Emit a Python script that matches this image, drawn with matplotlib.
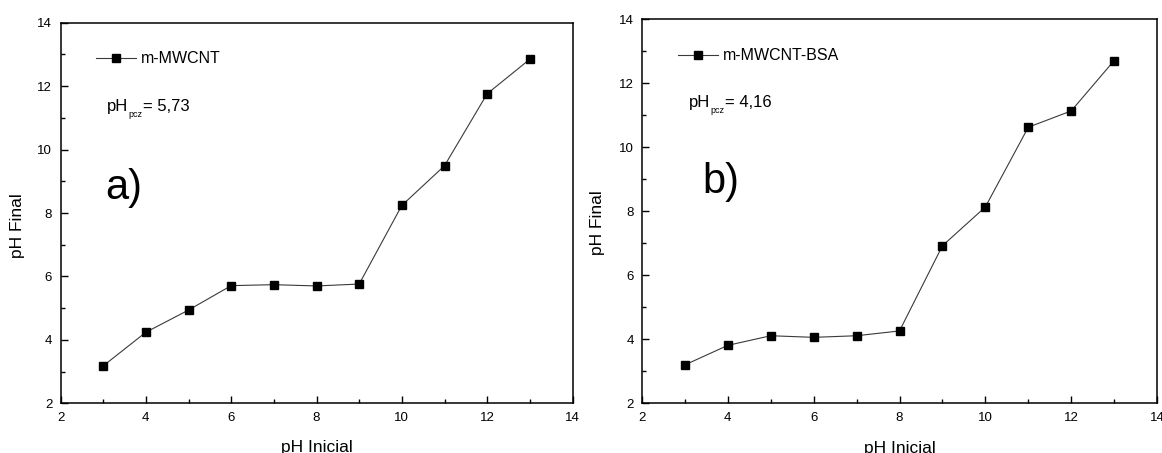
import matplotlib
matplotlib.use("Agg")
import matplotlib.pyplot as plt
from matplotlib.ticker import MultipleLocator

plt.rcParams["font.family"] = ["Liberation Sans", "DejaVu Sans"]

ph_inicial = [3, 4, 5, 6, 7, 8, 9, 10, 11, 12, 13]
ph_final_mwcnt = [3.18, 4.24, 4.94, 5.71, 5.74, 5.70, 5.76, 8.24, 9.49, 11.76, 12.85]
ph_final_bsa = [3.20, 3.81, 4.11, 4.06, 4.11, 4.26, 6.92, 8.13, 10.62, 11.13, 12.70]

panels = [
    ("m-MWCNT", ph_final_mwcnt, "5,73", "a)"),
    ("m-MWCNT-BSA", ph_final_bsa, "4,16", "b)"),
]
# axes rectangles in figure fraction, plus label offsets per panel
rects = [[0.0521, 0.1097, 0.4406, 0.8402], [0.5525, 0.1097, 0.4432, 0.8483]]
legend_xy = [(0.070, 0.925), (0.070, 0.924)]
pcz_xy = [(0.091, 0.768), (0.091, 0.771)]
tag_xy = [(0.088, 0.537), (0.118, 0.547)]
ylabel_xy = [(-0.069, 0.468), (-0.071, 0.469)]

fig = plt.figure(figsize=(11.62, 4.53), dpi=100)
renderer = fig.canvas.get_renderer()


def pcz_label(ax, x, y, value):
    # "pH" + small lowered "pcz" + "= value", laid out piece by piece
    t1 = ax.text(x, y, "pH", transform=ax.transAxes, fontsize=12,
                 va="baseline", ha="left")
    w1 = t1.get_window_extent(renderer).width
    t2 = ax.annotate("pcz", xy=(x, y), xycoords="axes fraction",
                     xytext=(w1 + 0.5, -6), textcoords="offset pixels",
                     fontsize=6.5, va="baseline", ha="left")
    w2 = t2.get_window_extent(renderer).width
    ax.annotate("= " + value, xy=(x, y), xycoords="axes fraction",
                xytext=(w1 + w2 + 1.0, 0), textcoords="offset pixels",
                fontsize=12, va="baseline", ha="left")


for i, (name, yvals, pcz, tag) in enumerate(panels):
    ax = fig.add_axes(rects[i])
    ax.plot(ph_inicial, yvals, color="#3a3a3a", lw=0.8, marker="s",
            ms=5.2, mfc="black", mec="black", label=name)
    ax.set_xlim(2, 14)
    ax.set_ylim(2, 14)
    ax.xaxis.set_major_locator(MultipleLocator(2))
    ax.xaxis.set_minor_locator(MultipleLocator(1))
    ax.yaxis.set_major_locator(MultipleLocator(2))
    ax.yaxis.set_minor_locator(MultipleLocator(1))
    ax.tick_params(which="both", direction="in", top=False, right=False,
                   width=1.0, labelsize=9.5)
    ax.tick_params(which="major", length=5, pad=6)
    ax.tick_params(which="minor", length=3)
    for sp in ax.spines.values():
        sp.set_linewidth(1.1)

    ax.set_xlabel("pH Inicial", fontsize=12.5)
    ax.xaxis.set_label_coords(0.5, -0.097)
    ax.set_ylabel("pH Final", fontsize=12.5)
    ax.yaxis.set_label_coords(*ylabel_xy[i])

    ax.legend(loc="upper left", bbox_to_anchor=legend_xy[i], frameon=False,
              fontsize=11.5, handlelength=2.5, handletextpad=0.3,
              borderaxespad=0, borderpad=0)
    pcz_label(ax, pcz_xy[i][0], pcz_xy[i][1], pcz)
    ax.text(tag_xy[i][0], tag_xy[i][1], tag, transform=ax.transAxes,
            fontsize=30, va="baseline", ha="left")

fig.savefig("out.png", dpi=100)
